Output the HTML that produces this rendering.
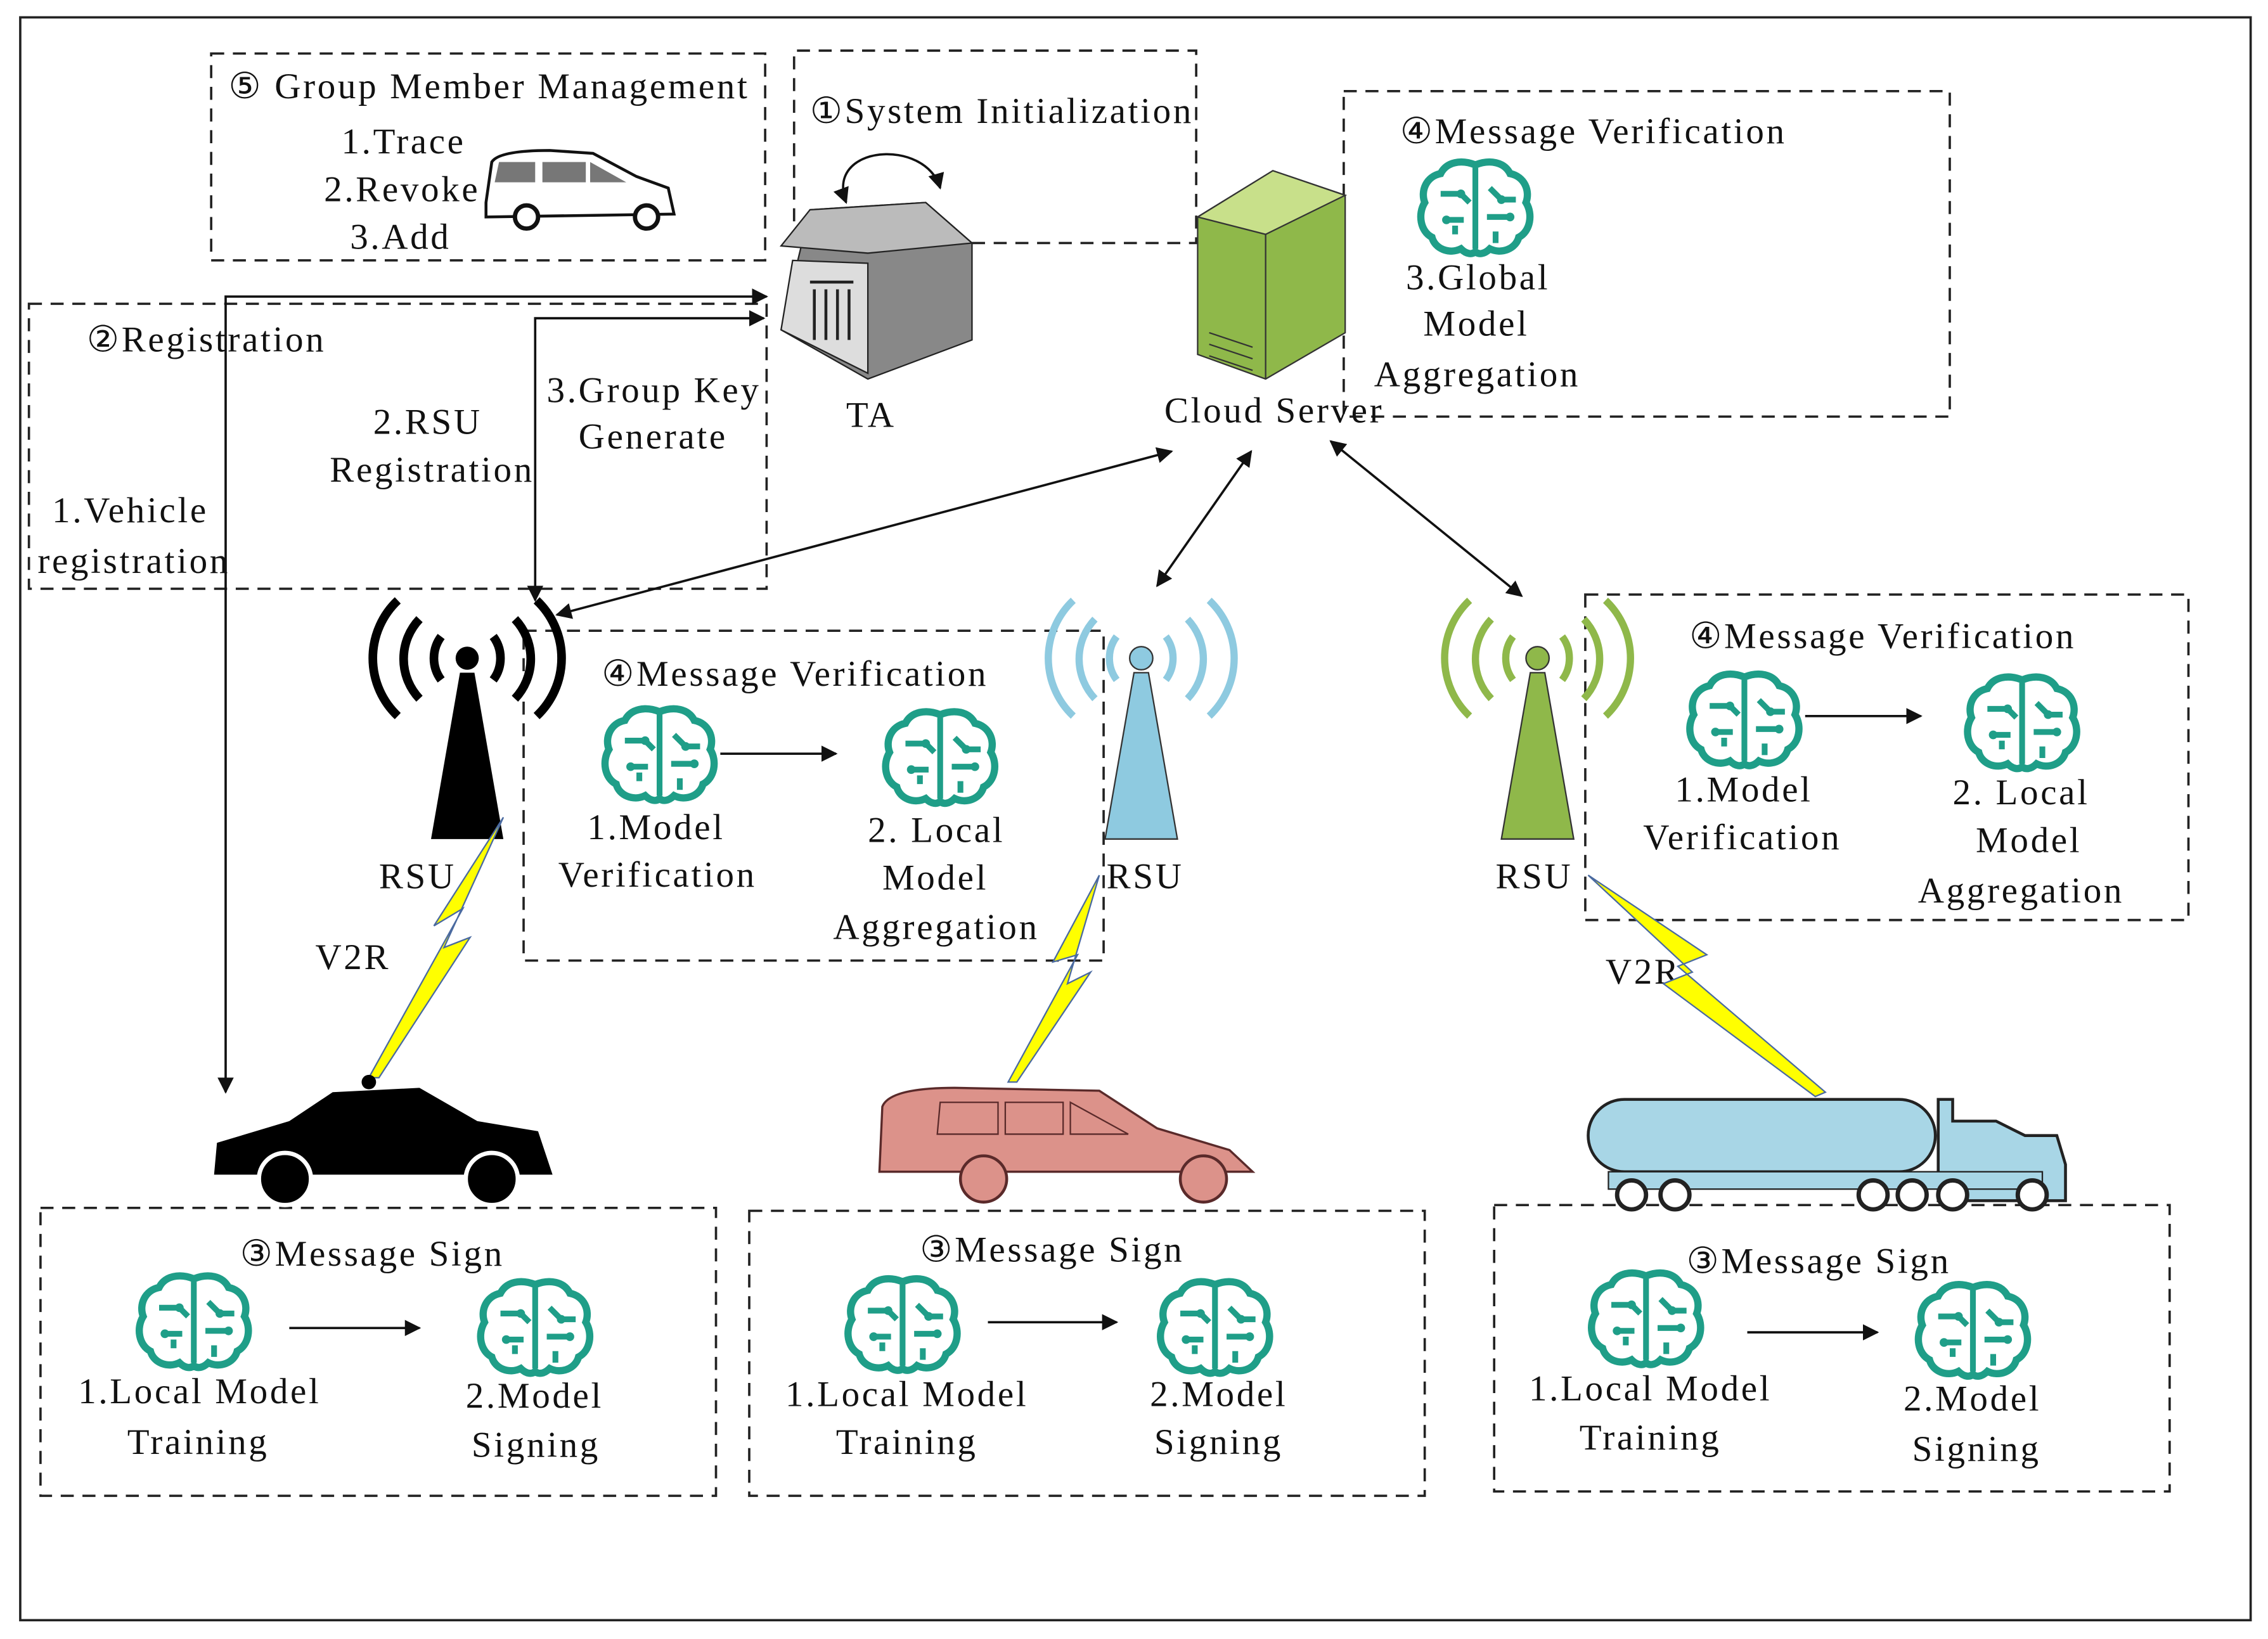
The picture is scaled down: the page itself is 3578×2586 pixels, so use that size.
<!DOCTYPE html>
<html><head><meta charset="utf-8"><style>
html,body{margin:0;padding:0;background:#fff}
svg{display:block}
text{font-family:"Liberation Serif",serif;font-size:25px;letter-spacing:1.6px;fill:#111}
.d{fill:none;stroke:#222;stroke-width:1.6;stroke-dasharray:9 6}
.l{stroke:#111;stroke-width:1.6;fill:none}
</style></head><body>
<svg width="3578" height="2586" viewBox="0 0 1568 1133" preserveAspectRatio="none" xmlns="http://www.w3.org/2000/svg">
<defs>
<marker id="a" viewBox="0 0 10 10" refX="9" refY="5" markerWidth="7" markerHeight="7" orient="auto-start-reverse"><path d="M0,0L10,5L0,10z" fill="#111"/></marker>
<g id="brain">
<path d="M40,4 C30,0 20,2 16,10 C6,12 2,22 5,30 C0,38 2,50 10,54 C12,62 22,66 30,62 C34,66 38,66 40,64 C42,66 46,66 50,62 C58,66 68,62 70,54 C78,50 80,38 75,30 C78,22 74,12 64,10 C60,2 50,0 40,4 Z" fill="none" stroke="#1f9e88" stroke-width="5"/>
<path d="M40,6 L40,62 M16,24 h14 l6,6 M20,42 h12 M50,20 l8,8 h10 M48,40 h16 M54,50 v8 M26,52 v-6" stroke="#1f9e88" stroke-width="4" fill="none"/>
<circle cx="30" cy="24" r="3" fill="#1f9e88"/><circle cx="58" cy="28" r="3" fill="#1f9e88"/><circle cx="64" cy="40" r="3" fill="#1f9e88"/><circle cx="20" cy="42" r="3" fill="#1f9e88"/>
</g>
</defs>
<rect x="14" y="12" width="1542" height="1108" fill="none" stroke="#222" stroke-width="1.6"/>

<rect class="d" x="146" y="37" width="383" height="143"/>
<path class="d" d="M549,168 V35 H827 V168 H670"/>
<rect class="d" x="929" y="63" width="419" height="225"/>
<rect class="d" x="20" y="210" width="510" height="197"/>
<rect class="d" x="362" y="436" width="401" height="228"/>
<rect class="d" x="1096" y="411" width="417" height="225"/>
<rect class="d" x="28" y="835" width="467" height="199"/>
<rect class="d" x="518" y="837" width="467" height="197"/>
<rect class="d" x="1033" y="833" width="467" height="198"/>

<text x="158" y="68">⑤ Group Member Management</text>
<text x="236" y="106">1.Trace</text>
<text x="224" y="139">2.Revoke</text>
<text x="242" y="172">3.Add</text>
<text x="560" y="85">①System Initialization</text>
<text x="968" y="99">④Message Verification</text>
<text x="972" y="200">3.Global</text>
<text x="984" y="232">Model</text>
<text x="950" y="267">Aggregation</text>
<text x="585" y="295">TA</text>
<text x="805" y="292">Cloud Server</text>
<text x="60" y="243">②Registration</text>
<text x="258" y="300">2.RSU</text>
<text x="228" y="333">Registration</text>
<text x="378" y="278">3.Group Key</text>
<text x="400" y="310">Generate</text>
<text x="36" y="361">1.Vehicle</text>
<text x="26" y="396">registration</text>
<text x="416" y="474">④Message Verification</text>
<text x="406" y="580">1.Model</text>
<text x="386" y="613">Verification</text>
<text x="600" y="582">2. Local</text>
<text x="610" y="615">Model</text>
<text x="576" y="649">Aggregation</text>
<text x="1168" y="448">④Message Verification</text>
<text x="1158" y="554">1.Model</text>
<text x="1136" y="587">Verification</text>
<text x="1350" y="556">2. Local</text>
<text x="1366" y="589">Model</text>
<text x="1326" y="624">Aggregation</text>
<text x="262" y="614">RSU</text>
<text x="765" y="614">RSU</text>
<text x="1034" y="614">RSU</text>
<text x="218" y="670">V2R</text>
<text x="1110" y="680">V2R</text>
<text x="166" y="875">③Message Sign</text>
<text x="54" y="970">1.Local Model</text>
<text x="88" y="1005">Training</text>
<text x="322" y="973">2.Model</text>
<text x="326" y="1007">Signing</text>
<text x="636" y="872">③Message Sign</text>
<text x="543" y="972">1.Local Model</text>
<text x="578" y="1005">Training</text>
<text x="795" y="972">2.Model</text>
<text x="798" y="1005">Signing</text>
<text x="1166" y="880">③Message Sign</text>
<text x="1057" y="968">1.Local Model</text>
<text x="1092" y="1002">Training</text>
<text x="1316" y="975">2.Model</text>
<text x="1322" y="1010">Signing</text>

<use href="#brain" x="416" y="488"/><use href="#brain" x="610" y="490"/>
<use href="#brain" x="1166" y="464"/><use href="#brain" x="1358" y="466"/>
<use href="#brain" x="980" y="110"/>
<use href="#brain" x="94" y="880"/><use href="#brain" x="330" y="884"/>
<use href="#brain" x="584" y="882"/><use href="#brain" x="800" y="884"/>
<use href="#brain" x="1098" y="878"/><use href="#brain" x="1324" y="886"/>

<line class="l" x1="498" y1="521" x2="578" y2="521" marker-end="url(#a)"/>
<line class="l" x1="1248" y1="495" x2="1328" y2="495" marker-end="url(#a)"/>
<line class="l" x1="200" y1="918" x2="290" y2="918" marker-end="url(#a)"/>
<line class="l" x1="683" y1="914" x2="772" y2="914" marker-end="url(#a)"/>
<line class="l" x1="1208" y1="921" x2="1298" y2="921" marker-end="url(#a)"/>

<path class="l" d="M156,755 V205 H530" marker-start="url(#a)" marker-end="url(#a)"/>
<path class="l" d="M370,415 V220 H528" marker-start="url(#a)" marker-end="url(#a)"/>
<line class="l" x1="385" y1="425" x2="810" y2="312" marker-start="url(#a)" marker-end="url(#a)"/>
<line class="l" x1="800" y1="405" x2="865" y2="312" marker-start="url(#a)" marker-end="url(#a)"/>
<line class="l" x1="920" y1="305" x2="1052" y2="412" marker-start="url(#a)" marker-end="url(#a)"/>
<path class="l" d="M585,140 C570,100 640,95 650,130" marker-start="url(#a)" marker-end="url(#a)"/>

<path d="M560,145 L640,140 L672,168 L672,235 L600,262 L540,228 Z" fill="#888" stroke="#222"/>
<path d="M540,170 L600,175 L672,168 L640,140 L560,145 Z" fill="#bbb" stroke="#222"/>
<path d="M548,180 L600,182 L600,258 L540,228 Z" fill="#ddd" stroke="#222"/>
<path d="M560,195 L590,195 M563,200 v35 M571,200 v35 M579,200 v35 M587,200 v35" stroke="#222" stroke-width="2"/>
<path d="M828,150 L880,118 L930,135 L930,230 L875,262 L828,245 Z" fill="#8fb84a" stroke="#333"/>
<path d="M828,150 L880,118 L930,135 L875,162 Z" fill="#c8e08a" stroke="#333"/>
<path d="M875,162 V262" stroke="#333"/>
<path d="M836,230 l30,10 M836,238 l30,10 M836,246 l30,10" stroke="#333"/>

<polygon points="318,465 328,465 348,580 298,580" fill="#000"/>
<circle cx="323" cy="455" r="8" fill="#000"/>
<g fill="none" stroke="#000" stroke-width="6">
<path d="M305,440 a25,25 0 0 0 0,30 M341,440 a25,25 0 0 1 0,30"/>
<path d="M290,428 a40,40 0 0 0 0,55 M356,428 a40,40 0 0 1 0,55"/>
<path d="M275,415 a55,55 0 0 0 0,80 M371,415 a55,55 0 0 1 0,80"/></g>
<polygon points="784,465 794,465 814,580 764,580" fill="#8ecae0" stroke="#333"/>
<circle cx="789" cy="455" r="8" fill="#8ecae0" stroke="#333"/>
<g fill="none" stroke="#8ecae0" stroke-width="5">
<path d="M772,440 a25,25 0 0 0 0,30 M806,440 a25,25 0 0 1 0,30"/>
<path d="M757,428 a40,40 0 0 0 0,55 M821,428 a40,40 0 0 1 0,55"/>
<path d="M742,415 a55,55 0 0 0 0,80 M836,415 a55,55 0 0 1 0,80"/></g>
<polygon points="1058,465 1068,465 1088,580 1038,580" fill="#8fb84a" stroke="#333"/>
<circle cx="1063" cy="455" r="8" fill="#8fb84a" stroke="#333"/>
<g fill="none" stroke="#8fb84a" stroke-width="5">
<path d="M1046,440 a25,25 0 0 0 0,30 M1080,440 a25,25 0 0 1 0,30"/>
<path d="M1031,428 a40,40 0 0 0 0,55 M1095,428 a40,40 0 0 1 0,55"/>
<path d="M1016,415 a55,55 0 0 0 0,80 M1110,415 a55,55 0 0 1 0,80"/></g>

<polygon points="348,565 300,640 320,628 255,745 262,745 325,648 307,655" fill="#ffff00" stroke="#4a6aa0"/>
<polygon points="760,605 728,665 745,660 697,748 703,748 754,672 738,680" fill="#ffff00" stroke="#4a6aa0"/>
<polygon points="1098,605 1180,660 1160,668 1262,755 1255,758 1150,680 1170,672" fill="#ffff00" stroke="#4a6aa0"/>

<path d="M336,140 L340,112 Q345,104 380,104 L410,106 L440,122 L462,130 L466,148 L336,150 Z" fill="#fff" stroke="#111" stroke-width="2"/>
<path d="M345,112 h25 v14 h-28 Z M375,112 h30 v14 h-30 Z M408,112 l25,14 h-25 Z" fill="#777"/>
<circle cx="364" cy="150" r="8" fill="#fff" stroke="#111" stroke-width="3"/><circle cx="447" cy="150" r="8" fill="#fff" stroke="#111" stroke-width="3"/>

<path d="M148,812 L150,790 L200,775 L230,755 L290,752 L330,775 L372,782 L382,812 Z" fill="#000"/>
<circle cx="255" cy="748" r="5" fill="#000"/>
<circle cx="197" cy="815" r="18" fill="#000" stroke="#fff" stroke-width="3"/><circle cx="340" cy="815" r="18" fill="#000" stroke="#fff" stroke-width="3"/>
<path d="M608,810 L610,765 Q615,752 660,752 L760,754 L800,780 L850,795 L866,810 Z" fill="#dc928a" stroke="#5a2a2a" stroke-width="1.5"/>
<path d="M650,762 h40 v22 h-42 Z M695,762 h40 v22 h-40 Z M740,762 l40,22 h-40 Z" fill="#dc928a" stroke="#5a2a2a"/>
<circle cx="680" cy="815" r="16" fill="#dc928a" stroke="#5a2a2a" stroke-width="2"/><circle cx="832" cy="815" r="16" fill="#dc928a" stroke="#5a2a2a" stroke-width="2"/>
<rect x="1098" y="760" width="240" height="50" rx="25" fill="#a8d6e6" stroke="#222" stroke-width="2"/>
<path d="M1340,790 V760 h10 v15 h30 l20,10 h22 l6,20 v25 h-88 Z" fill="#a8d6e6" stroke="#222" stroke-width="2"/>
<rect x="1112" y="810" width="300" height="12" fill="#a8d6e6" stroke="#222"/>
<g fill="#fff" stroke="#222" stroke-width="3">
<circle cx="1128" cy="826" r="10"/><circle cx="1158" cy="826" r="10"/><circle cx="1295" cy="826" r="10"/><circle cx="1322" cy="826" r="10"/><circle cx="1350" cy="826" r="10"/><circle cx="1405" cy="826" r="10"/></g>
</svg>
</body></html>
